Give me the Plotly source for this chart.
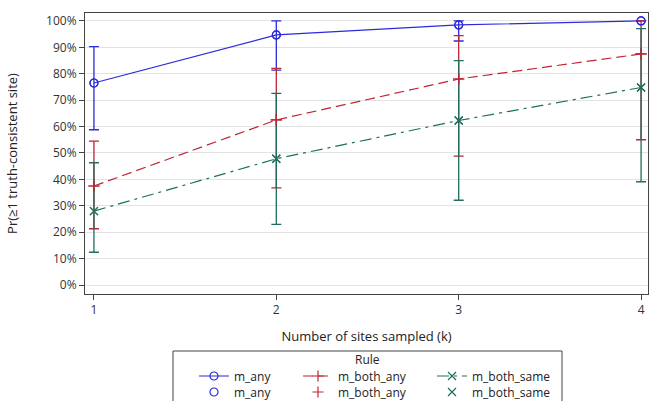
import plotly.graph_objects as go

k = [1, 2, 3, 4]
tick_vals = [0, 10, 20, 30, 40, 50, 60, 70, 80, 90, 100]
tick_text = [f"{v}%" for v in tick_vals]

series_names = ["m_any", "m_both_any", "m_both_same"]
m_any = [76.5, 94.7, 98.5, 100.0]
m_any_lo = [58.8, 81.4, 92.4, 100.0]
m_any_hi = [90.3, 100.0, 100.0, 100.0]

m_both_any = [37.5, 62.5, 78.0, 87.5]
m_both_any_lo = [21.3, 36.8, 48.8, 55.0]
m_both_any_hi = [54.5, 82.0, 94.4, 100.0]

m_both_same = [28.0, 47.8, 62.3, 74.8]
m_both_same_lo = [12.4, 23.0, 32.1, 39.1]
m_both_same_hi = [46.3, 72.6, 85.0, 97.1]

colors = ["#2B2BDB", "#BE2535", "#1F6E5F"]
dashes = ["solid", "10px,5px", "12px,5px,3px,5px"]
symbols = ["circle-open", "cross-thin-open", "x-thin-open"]

data = [
    (m_any, m_any_lo, m_any_hi),
    (m_both_any, m_both_any_lo, m_both_any_hi),
    (m_both_same, m_both_same_lo, m_both_same_hi),
]

FONT = "Open Sans, DejaVu Sans, sans-serif"
fig = go.Figure()

PL, PR, PT, PB = 85, 648, 13, 294
PW, PH = PR - PL, PB - PT
def px_x(p):
    return (p - PL) / PW
def px_y(p):
    return (PB - p) / PH

# legend text starts (pixels) for each entry column
text_x = [234, 338, 472]
row_y = [376, 392]

for i, (name, (vals, lo, hi), c, d, s) in enumerate(zip(series_names, data, colors, dashes, symbols)):
    fig.add_trace(go.Scatter(
        x=k, y=vals, mode="lines+markers", name=name, legend=f"legend{'' if i == 0 else i + 1}",
        line=dict(color=c, width=1.2, dash=d),
        marker=dict(symbol=s, size=8, color=c, line=dict(color=c, width=1.2)),
        error_y=dict(type="data", symmetric=False,
                     array=[h - v for h, v in zip(hi, vals)],
                     arrayminus=[v - l for v, l in zip(vals, lo)],
                     color=c, thickness=1.3, width=5),
    ))

for i, (name, vals, c, s) in enumerate(zip(series_names, [d[0] for d in data], colors, symbols)):
    fig.add_trace(go.Scatter(
        x=k, y=vals, mode="markers", name=name, legend=f"legend{i + 4}",
        marker=dict(symbol=s, size=8, color=c, line=dict(color=c, width=1.2)),
        hoverinfo="skip",
    ))

axis_common = dict(
    showline=True, linecolor="#444", linewidth=1, mirror=True,
    ticks="outside", ticklen=5, tickcolor="#444",
    tickfont=dict(size=12, color="#333", family=FONT),
    zeroline=False, automargin=False,
)

legends = {}
for r in range(2):
    for cidx in range(3):
        n = r * 3 + cidx + 1
        key = "legend" if n == 1 else f"legend{n}"
        legends[key] = dict(
            orientation="h", x=px_x(text_x[cidx] - 40), xanchor="left",
            y=px_y(row_y[r]), yanchor="middle",
            font=dict(size=12), bgcolor="rgba(0,0,0,0)", borderwidth=0,
        )

fig.update_layout(
    width=650, height=401,
    margin=dict(l=PL, r=650 - PR, t=PT, b=401 - PB, autoexpand=False),
    paper_bgcolor="white", plot_bgcolor="white",
    font=dict(family=FONT, size=12, color="#222"),
    xaxis=dict(range=[0.951, 4.038], tickvals=k, showgrid=False,
               title=dict(text="Number of sites sampled (k)", font=dict(size=13), standoff=14),
               **axis_common),
    yaxis=dict(range=[-3.4, 103.0], tickvals=tick_vals, ticktext=tick_text,
               showgrid=True, gridcolor="#E3E3E3", gridwidth=1,
               title=dict(text="Pr(≥1 truth-consistent site)", font=dict(size=13), standoff=25),
               **axis_common),
    showlegend=True,
    annotations=[dict(text="Rule", xref="paper", yref="paper", x=px_x(368), y=px_y(359),
                      xanchor="center", yanchor="middle", showarrow=False,
                      font=dict(size=12, color="#222"))],
    shapes=[dict(type="rect", xref="paper", yref="paper",
                 x0=px_x(173), x1=px_x(562), y0=px_y(402), y1=px_y(351),
                 line=dict(color="#444", width=1))],
    **legends,
)

fig.write_html("out.html", config={"displayModeBar": False},
               post_script="document.body.style.margin='0';")
